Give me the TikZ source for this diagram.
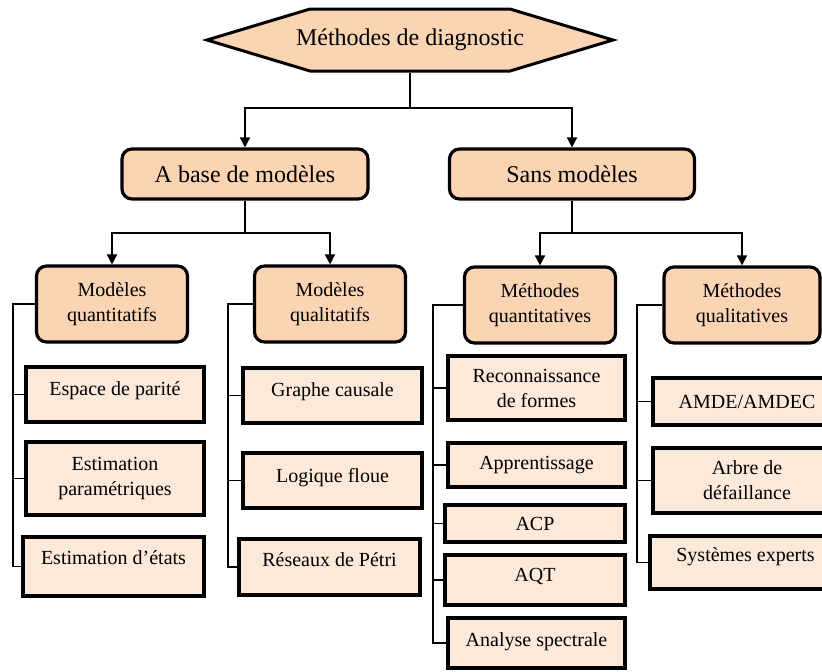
\documentclass[tikz,border=0pt]{standalone}
\usepackage{fontspec}
\setmainfont{Liberation Serif}
\usetikzlibrary{arrows.meta,shapes.symbols}

\definecolor{peach}{RGB}{251,212,180}
\definecolor{peachlight}{RGB}{253,233,217}

\tikzset{
  root/.style={draw, fill=peach, line width=1.5pt, shape=signal, signal to=west and east,
    signal pointer angle=33.5, minimum height=31pt, inner xsep=-7pt, inner ysep=0pt,
    font=\fontsize{12}{14}\selectfont},
  family/.style={draw, fill=peach, line width=1.6pt, rounded corners=5pt,
    minimum height=25pt, font=\fontsize{12}{14}\selectfont},
  group/.style={draw, fill=peach, line width=1.6pt, rounded corners=5pt, align=center,
    minimum width=75.5pt, minimum height=38pt, font=\fontsize{10}{12.5}\selectfont},
  leaf/.style={draw, fill=peachlight, line width=1.6pt, align=center,
    font=\fontsize{10}{12.5}\selectfont},
  lift/.style={text height=7pt, text depth=#1},
  link/.style={line width=0.85pt},
  arr/.style={link, -{Triangle[width=5pt,length=5pt]}}
}

\begin{document}
\begin{tikzpicture}[x=0.5pt, y=-0.5pt]
    \clip (0,0) rectangle (822,671);
    % --- Root ---
    \node[root] (meth) at (410,40) {Méthodes de diagnostic};

    % --- Families ---
    \node[family, minimum width=123pt] (abase) at (245,174) {A base de modèles};
    \node[family, minimum width=122.5pt] (sans) at (572,174) {Sans modèles};
    \coordinate (split0) at (410,108);
    \draw[link] (meth.south) -- (split0);
    \draw[arr] (split0) -| (abase.north);
    \draw[arr] (split0) -| (sans.north);

    % --- Groups ---
    \node[group] (mquanti) at (112,304) {Modèles\\quantitatifs};
    \node[group] (mquali) at (330,304) {Modèles\\qualitatifs};
    \node[group] (tquanti) at (540,305) {Méthodes\\quantitatives};
    \node[group, minimum width=78pt] (tquali) at (742,305) {Méthodes\\qualitatives};
    \coordinate (split1) at (245,233);
    \coordinate (split2) at (572,233);
    \draw[link] (abase.south) -- (split1);
    \draw[link] (sans.south) -- (split2);
    \draw[arr] (split1) -| (mquanti.north);
    \draw[arr] (split1) -| (mquali.north);
    \draw[arr] (split2) -| (tquanti.north);
    \draw[arr] (split2) -| (tquali.north);

    % --- Modeles quantitatifs ---
    \node[leaf, lift=6.5pt, minimum width=89pt, minimum height=27.5pt] (parite) at (115,394.5) {Espace de parité};
    \node[leaf, minimum width=89pt, minimum height=36.5pt] (param) at (115,478.5) {Estimation\\paramétriques};
    \node[leaf, lift=9pt, minimum width=90.5pt, minimum height=29.5pt] (etats) at (113.5,566.5) {Estimation d'états};
    \coordinate (rail1) at (13,304);
    \draw[link] (mquanti.west) -- (rail1) |- (etats.west);
    \foreach \n in {parite,param}
        \draw[link] (\n.west) -- (\n.west -| rail1);

    % --- Modeles qualitatifs ---
    \node[leaf, lift=6.5pt, minimum width=89.5pt, minimum height=27.5pt] (graphe) at (332.5,395.5) {Graphe causale};
    \node[leaf, lift=5.5pt, minimum width=89.5pt, minimum height=27.5pt] (floue) at (332.5,480.5) {Logique floue};
    \node[leaf, lift=8pt, minimum width=90.5pt, minimum height=28pt] (petri) at (329.5,567) {Réseaux de Pétri};
    \coordinate (rail2) at (228,304);
    \draw[link] (mquali.west) -- (rail2) |- (petri.west);
    \foreach \n in {graphe,floue}
        \draw[link] (\n.west) -- (\n.west -| rail2);

    % --- Methodes quantitatives ---
    \node[leaf, minimum width=88.5pt, minimum height=32pt] (formes) at (536.5,388) {Reconnaissance\\de formes};
    \node[leaf, minimum width=88.5pt, minimum height=22pt] (appr) at (536.5,465) {Apprentissage};
    \node[leaf, minimum width=90pt, minimum height=18.5pt] (acp) at (535,523.5) {ACP};
    \node[leaf, lift=6pt, minimum width=90pt, minimum height=25pt] (aqt) at (535,580) {AQT};
    \node[leaf, lift=4pt, minimum width=88.5pt, minimum height=25pt] (spectre) at (536.5,643) {Analyse spectrale};
    \coordinate (rail3) at (433,305);
    \draw[link] (tquanti.west) -- (rail3) |- (spectre.west);
    \foreach \n in {formes,appr,acp,aqt}
        \draw[link] (\n.west) -- (\n.west -| rail3);

    % --- Methodes qualitatives ---
    \node[leaf, minimum width=94pt, minimum height=23.5pt] (amde) at (747,401.5) {AMDE/AMDEC};
    \node[leaf, minimum width=94pt, minimum height=32.5pt] (arbre) at (747,480.5) {Arbre de\\défaillance};
    \node[leaf, lift=8.5pt, minimum width=95.5pt, minimum height=26.5pt] (experts) at (745.5,562.5) {Systèmes experts};
    \coordinate (rail4) at (637,305);
    \draw[link] (tquali.west) -- (rail4) |- (experts.west);
    \foreach \n in {amde,arbre}
        \draw[link] (\n.west) -- (\n.west -| rail4);
\end{tikzpicture}
\end{document}
